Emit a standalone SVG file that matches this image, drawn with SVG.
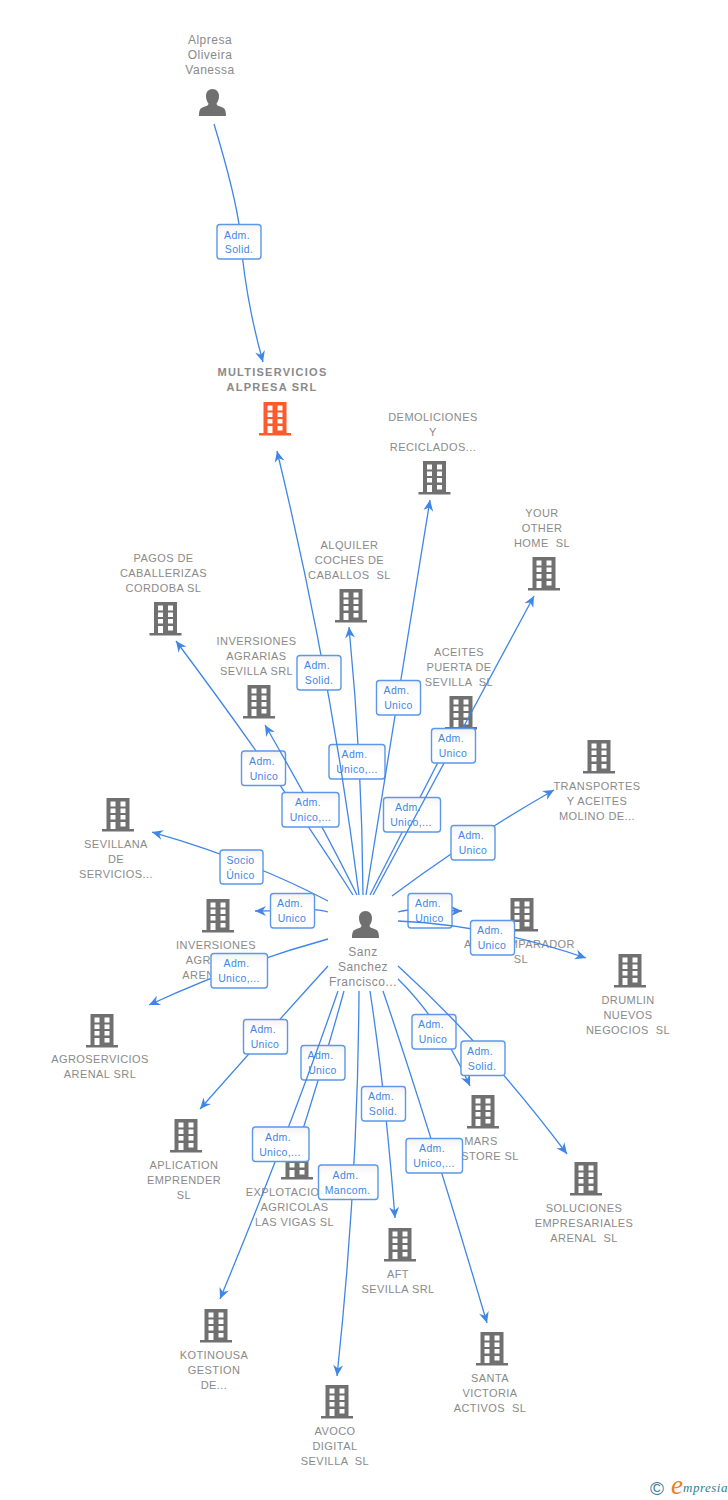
<svg xmlns="http://www.w3.org/2000/svg" width="728" height="1500" viewBox="0 0 728 1500">
<style>
text{font-family:"Liberation Sans",Arial,sans-serif}
.n{font-size:11px;letter-spacing:.43px;fill:#8a8a8a;text-anchor:middle}
.m{font-size:11px;letter-spacing:1.25px;font-weight:bold;fill:#8a8a8a;text-anchor:middle}
.p{font-size:12px;letter-spacing:.5px;fill:#8a8a8a;text-anchor:middle}
.e{fill:none;stroke:#3f86e6;stroke-width:1.3;marker-end:url(#a)}
.o{fill:none;stroke:#3f86e6;stroke-width:1.3}
.b{fill:url(#g);stroke:#5b97ea;stroke-width:1.4}
.l{font-size:10.5px;letter-spacing:.35px;fill:#3f86e6;text-anchor:middle}
</style>
<defs>
<linearGradient id="g" x1="0" y1="0" x2="0" y2="1"><stop offset="0" stop-color="#f3f3f3"/><stop offset=".3" stop-color="#fff"/></linearGradient>
<marker id="a" markerUnits="userSpaceOnUse" markerWidth="14" markerHeight="14" refX="12" refY="7" orient="auto"><path d="M12,7 L1,2 L4.5,7 L1,12 Z" fill="#3f86e6"/></marker>
<g id="bld"><path fill-rule="evenodd" d="M-11.5,0H11.5V31H16V33.500H-16V31H-11.5ZM-7.5,3.500V8.500H-2.5V3.500ZM2.500,3.500V8.500H7.500V3.500ZM-7.5,10.500V15H-2.5V10.500ZM2.500,10.500V15H7.500V10.500ZM-7.5,17V21.500H-2.5V17ZM2.500,17V21.500H7.500V17ZM-7.5,24V31H-2.5V24ZM2.500,24V28.500H7.500V24Z"/></g>
<g id="per"><path d="M0,0C4,0 6.500,3 6.500,7C6.500,10 5.500,12.500 4,14.500C4,16.500 6,17 9,18C12,19 13.500,20.500 13.500,27H-13.500C-13.500,20.500 -12,19 -9,18C-6,17 -4,16.500 -4,14.500C-5.500,12.500 -6.500,10 -6.500,7C-6.500,3 -4,0 0,0Z"/></g>
</defs>
<g id="nodes" fill="#707070">
<g id="n-alpresa"><use href="#per" x="212.500" y="89"/><text class="p" x="210" y="44">Alpresa</text><text class="p" x="210" y="59">Oliveira</text><text class="p" x="210" y="74">Vanessa</text></g>
<g id="n-multi" fill="#ff5a2b"><use href="#bld" x="275" y="402"/><text class="m" x="272.500" y="376">MULTISERVICIOS</text><text class="m" x="272" y="391">ALPRESA SRL</text></g>
<g id="n-demol"><use href="#bld" x="434.500" y="461"/><text class="n" x="433" y="421">DEMOLICIONES</text><text class="n" x="433" y="436">Y</text><text class="n" x="433" y="451">RECICLADOS...</text></g>
<g id="n-your"><use href="#bld" x="544" y="557"/><text class="n" x="542" y="517">YOUR</text><text class="n" x="542" y="532">OTHER</text><text class="n" x="542" y="547" xml:space="preserve">HOME  SL</text></g>
<g id="n-alquiler"><use href="#bld" x="351" y="589"/><text class="n" x="349.500" y="549">ALQUILER</text><text class="n" x="349.500" y="564">COCHES DE</text><text class="n" x="349.500" y="579" xml:space="preserve">CABALLOS  SL</text></g>
<g id="n-pagos"><use href="#bld" x="165.500" y="602"/><text class="n" x="163.500" y="562">PAGOS DE</text><text class="n" x="163.500" y="577">CABALLERIZAS</text><text class="n" x="163.500" y="592">CORDOBA SL</text></g>
<g id="n-invagr"><use href="#bld" x="259" y="685"/><text class="n" x="256.500" y="645">INVERSIONES</text><text class="n" x="256.500" y="660">AGRARIAS</text><text class="n" x="256.500" y="675">SEVILLA SRL</text></g>
<g id="n-aceites"><use href="#bld" x="461" y="696"/><text class="n" x="459" y="656">ACEITES</text><text class="n" x="459" y="671">PUERTA DE</text><text class="n" x="459" y="686" xml:space="preserve">SEVILLA  SL</text></g>
<g id="n-transp"><use href="#bld" x="599" y="740"/><text class="n" x="597" y="790">TRANSPORTES</text><text class="n" x="597" y="805">Y ACEITES</text><text class="n" x="597" y="820">MOLINO DE...</text></g>
<g id="n-sevillana"><use href="#bld" x="118" y="798"/><text class="n" x="116" y="848">SEVILLANA</text><text class="n" x="116" y="863">DE</text><text class="n" x="116" y="878">SERVICIOS...</text></g>
<g id="n-invaren"><use href="#bld" x="218" y="899"/><text class="n" x="216" y="949">INVERSIONES</text><text class="n" x="216" y="964">AGRARIAS</text><text class="n" x="216" y="979" xml:space="preserve">ARENAL  SL</text></g>
<g id="n-compar"><use href="#bld" x="522" y="898"/><text class="n" x="519.500" y="948">ACE COMPARADOR</text><text class="n" x="521" y="963">SL</text></g>
<g id="n-drumlin"><use href="#bld" x="630" y="954"/><text class="n" x="628" y="1004">DRUMLIN</text><text class="n" x="628" y="1019">NUEVOS</text><text class="n" x="628" y="1034" xml:space="preserve">NEGOCIOS  SL</text></g>
<g id="n-agroserv"><use href="#bld" x="102" y="1014"/><text class="n" x="100" y="1063">AGROSERVICIOS</text><text class="n" x="100" y="1078">ARENAL SRL</text></g>
<g id="n-aplic"><use href="#bld" x="186" y="1119"/><text class="n" x="184" y="1169">APLICATION</text><text class="n" x="184" y="1184">EMPRENDER</text><text class="n" x="184" y="1199">SL</text></g>
<g id="n-mars"><use href="#bld" x="483" y="1095"/><text class="n" x="481" y="1145">MARS</text><text class="n" x="490" y="1160">STORE SL</text></g>
<g id="n-explot"><use href="#bld" x="297" y="1146"/><text class="n" x="294.500" y="1196">EXPLOTACIONES</text><text class="n" x="294.500" y="1211">AGRICOLAS</text><text class="n" x="294.500" y="1226">LAS VIGAS SL</text></g>
<g id="n-soluc"><use href="#bld" x="586" y="1162"/><text class="n" x="584" y="1212">SOLUCIONES</text><text class="n" x="584" y="1227">EMPRESARIALES</text><text class="n" x="584" y="1242" xml:space="preserve">ARENAL  SL</text></g>
<g id="n-aft"><use href="#bld" x="400" y="1228"/><text class="n" x="398" y="1278">AFT</text><text class="n" x="398" y="1293">SEVILLA SRL</text></g>
<g id="n-kotin"><use href="#bld" x="216" y="1309"/><text class="n" x="214" y="1359">KOTINOUSA</text><text class="n" x="214" y="1374">GESTION</text><text class="n" x="214" y="1389">DE...</text></g>
<g id="n-santa"><use href="#bld" x="492" y="1332"/><text class="n" x="490" y="1382">SANTA</text><text class="n" x="490" y="1397">VICTORIA</text><text class="n" x="490" y="1412" xml:space="preserve">ACTIVOS  SL</text></g>
<g id="n-avoco"><use href="#bld" x="337" y="1385"/><text class="n" x="335" y="1435">AVOCO</text><text class="n" x="335" y="1450">DIGITAL</text><text class="n" x="335" y="1465" xml:space="preserve">SEVILLA  SL</text></g>
<g id="n-sanz"><use href="#per" x="365.500" y="911"/><text class="p" x="363" y="956">Sanz</text><text class="p" x="363" y="971">Sanchez</text><text class="p" x="363" y="986">Francisco...</text></g>
</g>
<g id="connectors">
<path class="e" d="M214,124C227,167 237,205 240,232C244,285 254,330 263,362"/>
<g><rect class="b" x="217" y="224.500" width="44" height="34.500" rx="3"/><text class="l" x="237" y="238.500">Adm.</text><text class="l" x="239" y="253">Solid.</text></g>
<path class="e" d="M363,895Q362,760 349,627"/>
<g><rect class="b" x="329" y="744.500" width="56" height="34.500" rx="3"/><text class="l" x="354.500" y="758">Adm.</text><text class="l" x="357" y="773">Unico,...</text></g>
<path class="e" d="M359,895Q331,674 277,451"/>
<g><rect class="b" x="297" y="655.500" width="44" height="34.500" rx="3"/><text class="l" x="317" y="669">Adm.</text><text class="l" x="319" y="684">Solid.</text></g>
<path class="e" d="M366,895Q395,720 430,500"/>
<g><rect class="b" x="376.500" y="680.500" width="44" height="34.500" rx="3"/><text class="l" x="396.500" y="694">Adm.</text><text class="l" x="398.500" y="709">Unico</text></g>
<path class="e" d="M353,895Q280,780 176,641"/>
<g><rect class="b" x="241.500" y="751" width="44" height="34.500" rx="3"/><text class="l" x="262" y="764.500">Adm.</text><text class="l" x="264" y="779.500">Unico</text></g>
<path class="e" d="M357,895Q320,820 265,725"/>
<g><rect class="b" x="282" y="792.500" width="57" height="34.500" rx="3"/><text class="l" x="308" y="806">Adm.</text><text class="l" x="310.500" y="821">Unico,...</text></g>
<path class="o" d="M370,895L452,735"/>
<g><rect class="b" x="383.500" y="797.500" width="57" height="34.500" rx="3"/><text class="l" x="408" y="811">Adm.</text><text class="l" x="411" y="826">Unico,...</text></g>
<path class="e" d="M373,895L534,596"/>
<g><rect class="b" x="431.500" y="728.500" width="44" height="34.500" rx="3"/><text class="l" x="451" y="742">Adm.</text><text class="l" x="453" y="757">Unico</text></g>
<path class="e" d="M392,896Q470,838 554,790"/>
<g><rect class="b" x="451" y="825.500" width="44" height="34.500" rx="3"/><text class="l" x="471" y="839">Adm.</text><text class="l" x="473" y="854">Unico</text></g>
<path class="e" d="M328,901Q250,860 152,832"/>
<g><rect class="b" x="220" y="850" width="43" height="34" rx="3"/><text class="l" x="240.500" y="863.500">Socio</text><text class="l" x="240.500" y="878.500">Único</text></g>
<path class="e" d="M328,912C315,907 290,911 255,911"/>
<g><rect class="b" x="270.500" y="893.500" width="44" height="34.500" rx="3"/><text class="l" x="290" y="907">Adm.</text><text class="l" x="292" y="922">Unico</text></g>
<path class="e" d="M398,912C415,907 440,911 462,911"/>
<g><rect class="b" x="408" y="893.500" width="44" height="34.500" rx="3"/><text class="l" x="428" y="907">Adm.</text><text class="l" x="429.500" y="922">Unico</text></g>
<path class="e" d="M398,921Q490,925 586,958"/>
<g><rect class="b" x="470.500" y="920.500" width="44" height="34.500" rx="3"/><text class="l" x="490" y="934">Adm.</text><text class="l" x="492" y="949">Unico</text></g>
<path class="e" d="M328,939Q240,963 149,1005"/>
<g><rect class="b" x="211" y="953.500" width="56.500" height="34.500" rx="3"/><text class="l" x="236.500" y="967">Adm.</text><text class="l" x="239" y="982">Unico,...</text></g>
<path class="e" d="M328,966Q270,1030 200,1109"/>
<g><rect class="b" x="243.500" y="1019.500" width="44" height="34.500" rx="3"/><text class="l" x="263" y="1033">Adm.</text><text class="l" x="265" y="1048">Unico</text></g>
<path class="o" d="M344,991Q325,1060 298,1145"/>
<g><rect class="b" x="301" y="1045.500" width="44" height="34.500" rx="3"/><text class="l" x="320.500" y="1059">Adm.</text><text class="l" x="322.500" y="1074">Unico</text></g>
<path class="e" d="M338,991Q290,1130 220,1299"/>
<g><rect class="b" x="252.500" y="1127" width="56.500" height="34.500" rx="3"/><text class="l" x="278" y="1141">Adm.</text><text class="l" x="280" y="1156">Unico,...</text></g>
<path class="e" d="M359,991Q358,1180 337,1376"/>
<g><rect class="b" x="318.500" y="1165" width="59.500" height="34.500" rx="3"/><text class="l" x="345.500" y="1179">Adm.</text><text class="l" x="347.500" y="1194">Mancom.</text></g>
<path class="e" d="M370,991Q385,1090 395,1218"/>
<g><rect class="b" x="361.500" y="1086.500" width="44" height="34.500" rx="3"/><text class="l" x="381" y="1100">Adm.</text><text class="l" x="383" y="1115">Solid.</text></g>
<path class="e" d="M383,991Q430,1130 487,1323"/>
<g><rect class="b" x="406" y="1138.500" width="56.500" height="34.500" rx="3"/><text class="l" x="432" y="1152">Adm.</text><text class="l" x="434" y="1167">Unico,...</text></g>
<path class="e" d="M398,979Q440,1020 470,1086"/>
<g><rect class="b" x="412" y="1014.500" width="44" height="34.500" rx="3"/><text class="l" x="431" y="1028">Adm.</text><text class="l" x="433" y="1043">Unico</text></g>
<path class="e" d="M398,966Q485,1045 567,1154"/>
<g><rect class="b" x="461" y="1041" width="44" height="34.500" rx="3"/><text class="l" x="480" y="1055">Adm.</text><text class="l" x="482" y="1070">Solid.</text></g>
</g>
<g id="brand">
<text x="650" y="1495" font-size="19" fill="#3d7a99" style="font-family:'Liberation Sans',sans-serif">©</text>
<text x="671" y="1494" font-size="27" font-style="italic" fill="#f07d1a" style="font-family:'Liberation Serif',serif">e</text>
<text x="683" y="1492" font-size="13" font-style="italic" fill="#2f7f8f" style="font-family:'Liberation Serif',serif" letter-spacing=".5">mpresia</text>
</g>
</svg>
